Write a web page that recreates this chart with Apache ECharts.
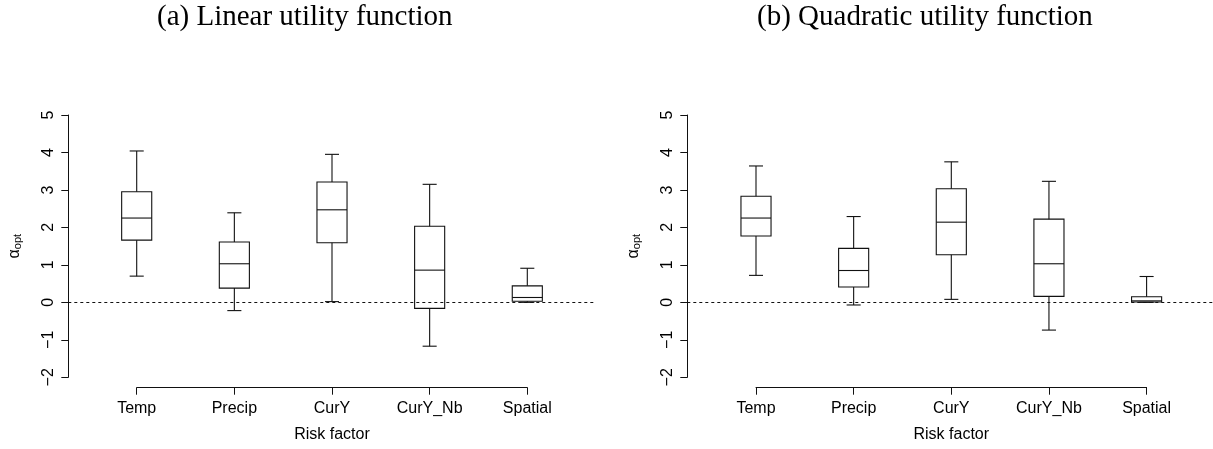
<!DOCTYPE html>
<html>
<head>
<meta charset="utf-8">
<script src="https://cdn.jsdelivr.net/npm/echarts@6/dist/echarts.min.js"></script>
<style>
html,body{margin:0;padding:0;background:#fff;}
#chart{width:1213px;height:449px;}
</style>
</head>
<body>
<div id="chart"></div>
<script>
// ---- data ----
const categories = ['Temp', 'Precip', 'CurY', 'CurY_Nb', 'Spatial'];
// five-number summaries: [lower whisker, Q1, median, Q3, upper whisker]
const linearStats = [
  [0.70, 1.66, 2.25, 2.95, 4.04],
  [-0.22, 0.38, 1.03, 1.61, 2.39],
  [0.02, 1.59, 2.47, 3.21, 3.95],
  [-1.17, -0.16, 0.86, 2.03, 3.15],
  [0.00, 0.03, 0.13, 0.44, 0.91]
];
const quadraticStats = [
  [0.72, 1.77, 2.25, 2.83, 3.64],
  [-0.07, 0.41, 0.85, 1.44, 2.29],
  [0.08, 1.27, 2.14, 3.03, 3.75],
  [-0.74, 0.16, 1.03, 2.22, 3.23],
  [0.00, 0.01, 0.04, 0.15, 0.69]
];
const panelTitles = ['(a) Linear utility function', '(b) Quadratic utility function'];
const yTicks = { min: -2, max: 5, interval: 1 };
const refLine = 0;
const xName = 'Risk factor';

// ---- layout ----
const INK = '#111';
const panels = [
  { stats: linearStats, gridLeft: 136.7, yAxisX: 68.3, plotRight: 596, titleLeft: 157 },
  { stats: quadraticStats, gridLeft: 756, yAxisX: 687.3, plotRight: 1215, titleLeft: 757 }
];
const bandW = 97.65;
const gridTop = 115, gridH = 262.3, xAxisY = 387.7;

function renderBox(params, api) {
  const i = api.value(0);
  const pLow = api.coord([i, api.value(1)]);
  const pQ1 = api.coord([i, api.value(2)]);
  const pMed = api.coord([i, api.value(3)]);
  const pQ3 = api.coord([i, api.value(4)]);
  const pHigh = api.coord([i, api.value(5)]);
  const band = api.size([1, 0])[0];
  const hw = band * 0.154;
  const cw = band * 0.072;
  const cx = pMed[0];
  const st = { stroke: INK, lineWidth: 1.1, fill: null };
  const ln = (x1, y1, x2, y2) => ({ type: 'line', shape: { x1, y1, x2, y2 }, style: st });
  return {
    type: 'group',
    children: [
      ln(cx, pLow[1], cx, pQ1[1]),
      ln(cx, pQ3[1], cx, pHigh[1]),
      ln(cx - cw, pLow[1], cx + cw, pLow[1]),
      ln(cx - cw, pHigh[1], cx + cw, pHigh[1]),
      { type: 'rect', shape: { x: cx - hw, y: pQ3[1], width: 2 * hw, height: pQ1[1] - pQ3[1] },
        style: { stroke: INK, lineWidth: 1.1, fill: 'rgba(0,0,0,0)' } },
      ln(cx - hw, pMed[1], cx + hw, pMed[1])
    ]
  };
}

const grids = [], xAxes = [], yAxes = [], series = [], titles = [];
panels.forEach((p, k) => {
  grids.push({ left: p.gridLeft, top: gridTop, width: bandW * (categories.length - 1), height: gridH });
  grids.push({ left: p.yAxisX, top: gridTop, width: p.plotRight - p.yAxisX, height: gridH });
  const g = k * 2;
  xAxes.push({
    gridIndex: g, type: 'category', data: categories, boundaryGap: false,
    position: 'bottom',
    offset: xAxisY - (gridTop + gridH),
    axisLine: { onZero: false, lineStyle: { color: INK, width: 1 } },
    axisTick: { length: 7, interval: 0, lineStyle: { color: INK } },
    axisLabel: { interval: 0, color: '#000', fontFamily: 'Liberation Sans', fontSize: 16, margin: 13 },
    splitLine: { show: false },
    name: xName, nameLocation: 'middle', nameGap: 39,
    nameTextStyle: { color: '#000', fontFamily: 'Liberation Sans', fontSize: 16 }
  });
  yAxes.push({
    gridIndex: g, type: 'value', min: yTicks.min, max: yTicks.max, interval: yTicks.interval,
    position: 'left',
    offset: p.gridLeft - p.yAxisX,
    axisLine: { show: true, onZero: false, lineStyle: { color: INK, width: 1 } },
    axisTick: { show: true, length: 7, lineStyle: { color: INK } },
    axisLabel: { rotate: 90, color: '#000', fontFamily: 'Liberation Sans', fontSize: 16, margin: 12,
      formatter: v => String(v).replace('-', '\u2212') },
    splitLine: { show: false },
    name: '{a|α}{s|opt}', nameLocation: 'middle', nameRotate: 90, nameGap: 45,
    nameTextStyle: {
      rich: {
        a: { fontFamily: 'Liberation Sans', fontSize: 16, color: '#000' },
        s: { fontFamily: 'Liberation Sans', fontSize: 11, color: '#000', verticalAlign: 'bottom', padding: [6, 0, 0, 0] }
      }
    }
  });
  xAxes.push({ gridIndex: g + 1, type: 'value', min: 0, max: 1, show: false });
  yAxes.push({ gridIndex: g + 1, type: 'value', min: yTicks.min, max: yTicks.max, show: false });
  series.push({
    type: 'custom', xAxisIndex: g, yAxisIndex: g,
    renderItem: renderBox,
    encode: { x: 0, y: [1, 2, 3, 4, 5] },
    data: p.stats.map((s, i) => [i].concat(s)),
    z: 2, silent: true
  });
  series.push({
    type: 'line', xAxisIndex: g + 1, yAxisIndex: g + 1, data: [], silent: true, z: 3,
    markLine: {
      silent: true, symbol: 'none', animation: false,
      label: { show: false },
      lineStyle: { type: [3, 3], color: INK, width: 1 },
      data: [{ yAxis: refLine }]
    }
  });
  titles.push({
    text: panelTitles[k], left: p.titleLeft, top: 3, padding: 0,
    textStyle: { fontFamily: 'Liberation Serif', fontWeight: 'normal', fontSize: 29, color: '#000' }
  });
});

const chart = echarts.init(document.getElementById('chart'), null, { renderer: 'canvas' });
chart.setOption({
  animation: false,
  backgroundColor: '#fff',
  title: titles,
  grid: grids,
  xAxis: xAxes,
  yAxis: yAxes,
  series: series
});
</script>
</body>
</html>
